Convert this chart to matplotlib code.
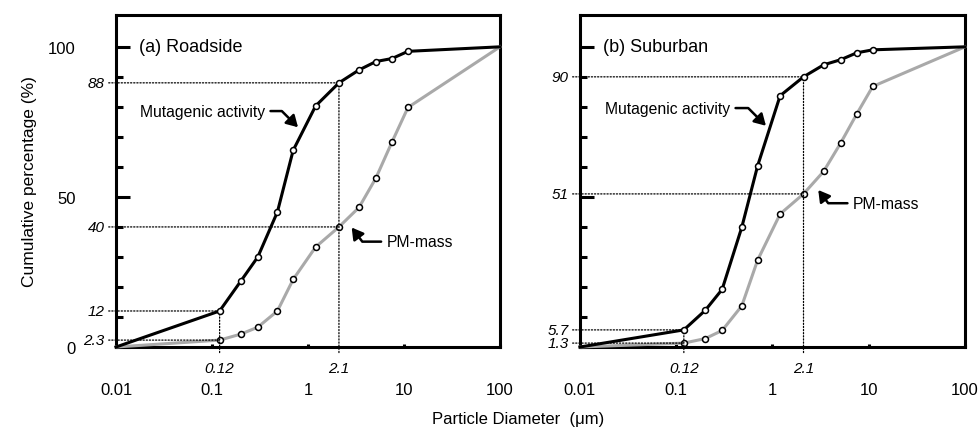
import matplotlib.pyplot as plt
from matplotlib.ticker import FixedLocator, NullLocator

plt.rcParams['font.family'] = ['Liberation Sans', 'DejaVu Sans']

# ---------------- DATA ----------------
diam = [0.01, 0.12, 0.2, 0.3, 0.48, 0.7, 1.2, 2.1, 3.4, 5.1, 7.5, 11, 100]   # um

road_mut = [0, 12, 22, 30, 45, 65.5, 80.3, 88, 92.3, 95.1, 96.1, 98.5, 100]
road_pm = [0, 2.3, 4.3, 6.6, 12, 22.5, 33.3, 40, 46.5, 56.3, 68.3, 79.8, 100]
sub_mut = [0, 5.7, 12.2, 19.2, 39.9, 60.3, 83.7, 90, 94, 95.7, 98, 99, 100]
sub_pm = [0, 1.3, 2.8, 5.5, 13.7, 28.9, 44.3, 51, 58.5, 67.9, 77.6, 86.8, 100]

x_ticks = [0.01, 0.1, 1, 10, 100]
x_ticklabels = ["0.01", "0.1", "1", "10", "100"]
y_major = [0, 50, 100]
y_minor = [10, 20, 30, 40, 60, 70, 80, 90]

road_marks_y = ["12", "2.3", "88", "40"]
sub_marks_y = ["5.7", "1.3", "90", "51"]
marks_x = ["0.12", "2.1"]
# --------------------------------------

GRAY = "#a9a9a9"
LW = 2.2


def dotted_y(ax, label, x, y):
    ax.annotate(label, xy=(x, y), xytext=(-0.03, y),
                xycoords="data", textcoords=("axes fraction", "data"),
                ha="right", va="center", fontsize=11, style="italic",
                arrowprops=dict(arrowstyle="-", ls=(0, (1, 1.5)), lw=0.9,
                                color="black", shrinkA=1, shrinkB=0,
                                relpos=(1, 0.5)))


def dotted_x(ax, label, x, y):
    ax.annotate(label, xy=(x, y), xytext=(x, -0.063),
                xycoords="data", textcoords=("data", "axes fraction"),
                ha="center", va="center", fontsize=11, style="italic",
                arrowprops=dict(arrowstyle="-", ls=(0, (1, 1.5)), lw=0.9,
                                color="black", shrinkA=4, shrinkB=0,
                                relpos=(0.5, 1)))


def draw_panel(ax, mut, pm, title, ylabels, show_ylabels, txt_mut, tip_mut, txt_pm, tip_pm):
    ax.plot(diam, pm, color=GRAY, lw=LW, marker="o", ms=4.3, mfc="white",
            mec="black", mew=1.1, markevery=slice(1, -1), zorder=3, clip_on=False)
    ax.plot(diam, mut, color="black", lw=LW, marker="o", ms=4.3, mfc="white",
            mec="black", mew=1.1, markevery=slice(1, -1), zorder=4, clip_on=False)

    ax.set_xscale("log")
    ax.set_xlim(0.01, 100)
    ax.set_ylim(0, 110.6)

    ax.set_xticks(x_ticks)
    ax.set_xticklabels(x_ticklabels)
    ax.xaxis.set_minor_locator(NullLocator())
    ax.yaxis.set_major_locator(FixedLocator(y_major))
    ax.yaxis.set_minor_locator(FixedLocator(y_minor))
    if show_ylabels:
        ax.set_yticklabels(["0", "50", "100"])
    else:
        ax.set_yticklabels([])

    ax.tick_params(axis="x", which="major", direction="in", length=2.5,
                   width=LW, pad=25, labelsize=12, top=False)
    ax.tick_params(axis="y", which="major", direction="in", length=10,
                   width=LW, pad=29, labelsize=12, right=False)
    ax.tick_params(axis="y", which="minor", direction="in", length=5,
                   width=LW, right=False)
    for s in ax.spines.values():
        s.set_linewidth(LW)

    ax.text(0.06, 100, title, transform=ax.get_yaxis_transform(),
            ha="left", va="center", fontsize=13)

    # dotted reference lines at 0.12 um and 2.1 um
    dotted_y(ax, ylabels[0], diam[1], mut[1])
    dotted_y(ax, ylabels[1], diam[1], pm[1])
    dotted_y(ax, ylabels[2], diam[7], mut[7])
    dotted_y(ax, ylabels[3], diam[7], pm[7])
    dotted_x(ax, marks_x[0], diam[1], mut[1])
    dotted_x(ax, marks_x[1], diam[7], mut[7])

    arrow = dict(arrowstyle="-|>,head_length=0.6,head_width=0.35", lw=1.8,
                 color="black", shrinkA=2, shrinkB=0)
    ax.annotate("Mutagenic activity", xy=tip_mut, xytext=txt_mut,
                ha="right", va="center", fontsize=11.3,
                arrowprops=dict(arrow, connectionstyle="angle,angleA=0,angleB=-45,rad=0",
                                relpos=(1, 0.5)))
    ax.annotate("PM-mass", xy=tip_pm, xytext=txt_pm,
                ha="left", va="center", fontsize=11.3,
                arrowprops=dict(arrow, connectionstyle="angle,angleA=180,angleB=127,rad=0",
                                relpos=(0, 0.5)))


fig = plt.figure(figsize=(9.8, 4.35), dpi=100)
ax1 = fig.add_axes([0.1184, 0.2, 0.3918, 0.7632])
ax2 = fig.add_axes([0.5918, 0.2, 0.3929, 0.7632])

draw_panel(ax1, road_mut, road_pm, "(a) Roadside", road_marks_y, True,
           (0.356, 78.6), (0.787, 73.2), (6.6, 35.1), (2.85, 39.8))
draw_panel(ax2, sub_mut, sub_pm, "(b) Suburban", sub_marks_y, False,
           (0.362, 79.6), (0.855, 73.7), (6.86, 47.9), (2.99, 52.3))

ax1.set_ylabel("Cumulative percentage (%)", fontsize=12.5, labelpad=8)
fig.text(0.529, 0.035, "Particle Diameter  (\u03bcm)", ha="center", va="center", fontsize=12)

fig.savefig("out.png", dpi=100)
